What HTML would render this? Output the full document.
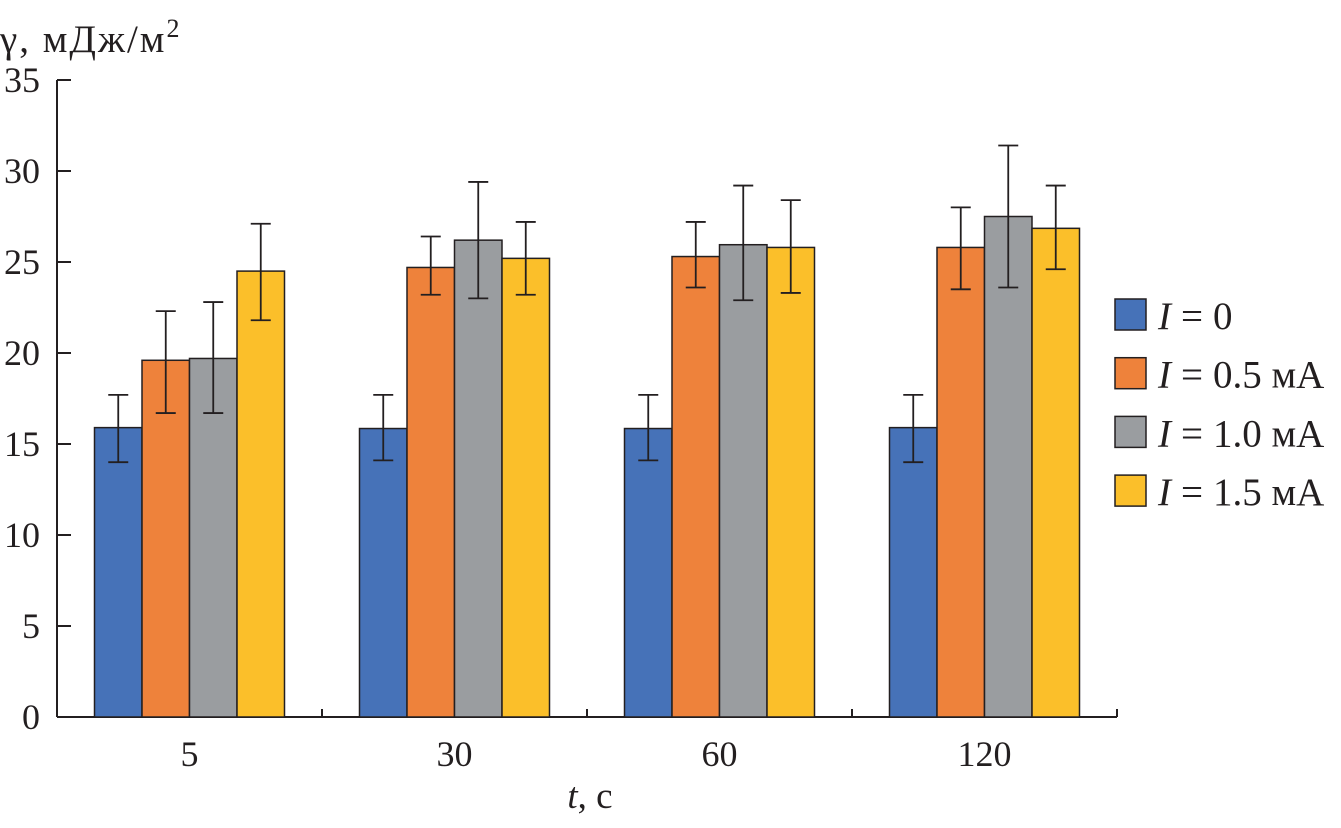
<!DOCTYPE html>
<html><head><meta charset="utf-8"><style>
body{margin:0;background:#fff;}
svg text{font-family:"Liberation Serif",serif;fill:#231f20;}
</style></head><body>
<svg id="chart" width="1341" height="823" xmlns="http://www.w3.org/2000/svg">
<g id="axes"></g><g id="bars"></g><g id="legend"></g>
</svg>
<script>
const categories = ["5","30","60","120"];
const seriesNames = ["0","0.5 мА","1.0 мА","1.5 мА"];
const s0 = [15.9,15.85,15.85,15.9];
const s1 = [19.6,24.7,25.3,25.8];
const s2 = [19.7,26.2,25.95,27.5];
const s3 = [24.5,25.2,25.8,26.85];
const e0hi=[17.7,17.7,17.7,17.7], e0lo=[14.0,14.1,14.1,14.0];
const e1hi=[22.3,26.4,27.2,28.0], e1lo=[16.7,23.2,23.6,23.5];
const e2hi=[22.8,29.4,29.2,31.4], e2lo=[16.7,23.0,22.9,23.6];
const e3hi=[27.1,27.2,28.4,29.2], e3lo=[21.8,23.2,23.3,24.6];
const yTicks=[0,5,10,15,20,25,30,35];
const colors=["#4672b8","#ee823b","#9a9da0","#fbbf2a"];
const series=[s0,s1,s2,s3], hi=[e0hi,e1hi,e2hi,e3hi], lo=[e0lo,e1lo,e2lo,e3lo];
const NS="http://www.w3.org/2000/svg";
const x0=57,x1=1117,yB=717,yT=80,yMax=35;
const y=v=>yB-(yB-yT)*v/yMax;
const gw=(x1-x0)/categories.length, bw=47.5;
function mk(tag,attrs,parent){const e=document.createElementNS(NS,tag);for(const k in attrs)e.setAttribute(k,attrs[k]);parent.appendChild(e);return e;}
const axes=document.getElementById('axes'),bars=document.getElementById('bars'),leg=document.getElementById('legend');
const ya=mk('line',{x1:x0,y1:yT,x2:x0,y2:yB,stroke:'#231f20','stroke-width':2},axes);

const xa=mk('line',{x1:x0,y1:yB,x2:x1,y2:yB,stroke:'#231f20','stroke-width':2},axes);

yTicks.forEach(t=>{
 mk('line',{x1:x0,y1:y(t),x2:x0+14,y2:y(t),stroke:'#231f20','stroke-width':2},axes);
 const tx=mk('text',{x:40,y:y(t)+12,'text-anchor':'end','font-size':36},axes);tx.textContent=t;
 
});
categories.forEach((c,i)=>{
 const cx=x0+gw*(i+0.5);
 mk('line',{x1:x0+gw*(i+1),y1:yB,x2:x0+gw*(i+1),y2:yB-8,stroke:'#231f20','stroke-width':2},axes);
 const tx=mk('text',{x:cx,y:yB+49,'text-anchor':'middle','font-size':36},axes);tx.textContent=c;
 
 series.forEach((s,j)=>{
  const bx=cx-2*bw+j*bw;
  const r=mk('rect',{x:bx,y:y(s[i]),width:bw,height:yB-y(s[i]),fill:colors[j],stroke:'#231f20','stroke-width':1.5},bars);
  
  const m=bx+bw/2;
  const eb=mk('path',{d:`M${m},${y(lo[j][i])}V${y(hi[j][i])}M${m-10},${y(lo[j][i])}H${m+10}M${m-10},${y(hi[j][i])}H${m+10}`,stroke:'#231f20','stroke-width':1.8,fill:'none'},bars);
  
 });
});
const yl=mk('text',{x:0,y:52,'font-size':39,'letter-spacing':2},axes);
yl.innerHTML='γ, мДж/м<tspan dy="-15" font-size="26">2</tspan>';

const xl=mk('text',{x:590,y:808,'text-anchor':'middle','font-size':37},axes);
xl.innerHTML='<tspan font-style="italic">t</tspan>, с';

seriesNames.forEach((n,j)=>{
 const ly=299+j*58.7;
 const r=mk('rect',{x:1115,y:ly,width:31,height:31,fill:colors[j],stroke:'#231f20','stroke-width':1.5},leg);
 
 const t=mk('text',{x:1158,y:ly+30,'font-size':39},leg);
 t.innerHTML='<tspan font-style="italic">I</tspan><tspan dx="10">=</tspan><tspan dx="10">'+n+'</tspan>';
 
});
</script>
</body></html>
